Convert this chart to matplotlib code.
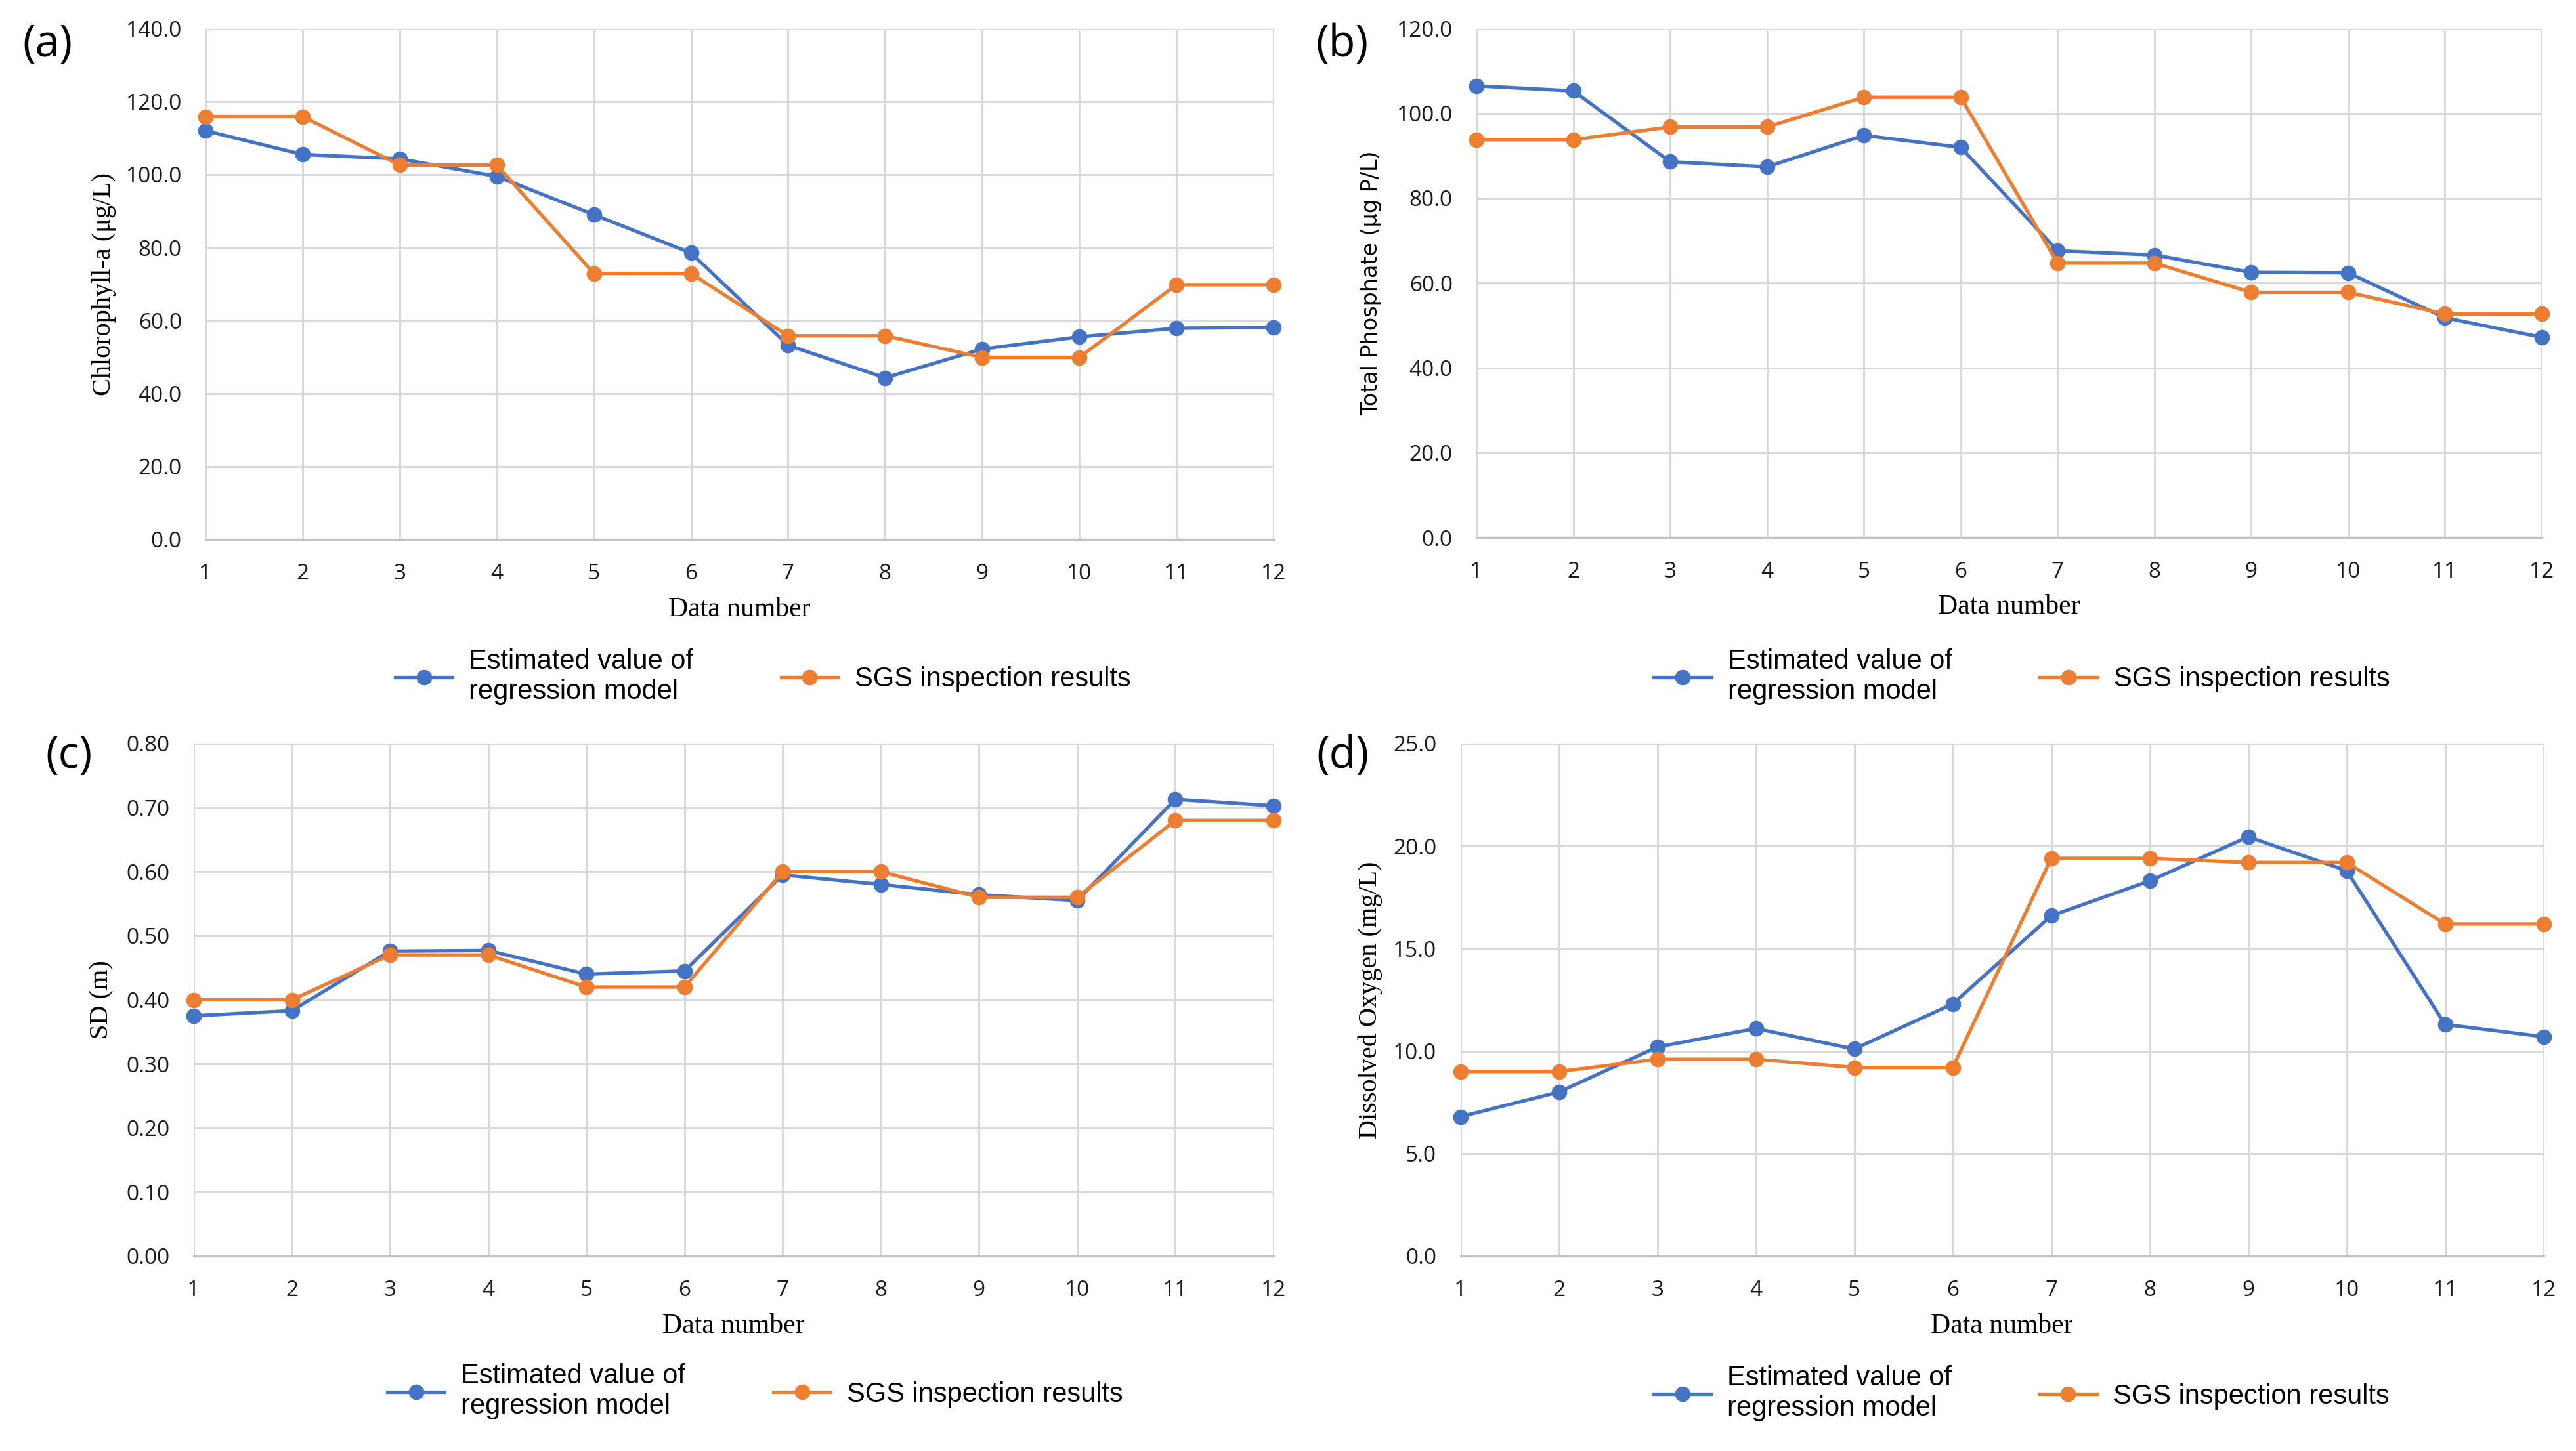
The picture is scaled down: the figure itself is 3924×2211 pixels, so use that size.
import matplotlib
matplotlib.use("Agg")
import matplotlib.pyplot as plt
from matplotlib.ticker import FormatStrFormatter

# data
data_number = [1, 2, 3, 4, 5, 6, 7, 8, 9, 10, 11, 12]

chl_est = [112.0, 105.5, 104.3, 99.5, 89.0, 78.5, 53.2, 44.3, 52.2, 55.5, 57.9, 58.1]
chl_sgs = [115.9, 115.9, 102.6, 102.6, 72.9, 72.9, 55.8, 55.8, 49.9, 49.9, 69.8, 69.8]

tp_est = [106.5, 105.3, 88.6, 87.4, 94.8, 92.0, 67.6, 66.6, 62.5, 62.4, 51.8, 47.2]
tp_sgs = [93.8, 93.8, 96.8, 96.8, 103.8, 103.8, 64.7, 64.7, 57.8, 57.8, 52.7, 52.7]

sd_est = [0.375, 0.383, 0.476, 0.477, 0.440, 0.445, 0.595, 0.580, 0.564, 0.555, 0.713, 0.703]
sd_sgs = [0.40, 0.40, 0.47, 0.47, 0.42, 0.42, 0.60, 0.60, 0.56, 0.56, 0.68, 0.68]

do_est = [6.8, 8.0, 10.2, 11.1, 10.1, 12.3, 16.6, 18.3, 20.45, 18.8, 11.3, 10.7]
do_sgs = [9.0, 9.0, 9.6, 9.6, 9.2, 9.2, 19.4, 19.4, 19.2, 19.2, 16.2, 16.2]

label_est = "Estimated value of\nregression model"
label_sgs = "SGS inspection results"

BLUE = "#4472C4"
ORANGE = "#ED7D31"
GRID = "#D9D9D9"

W, H = 3924, 2211
fig = plt.figure(figsize=(W / 100, H / 100), dpi=100)


def px_axes(left, top, right, bottom):
    # axes box given in pixel coordinates of the picture
    return fig.add_axes([left / W, 1 - bottom / H, (right - left) / W, (bottom - top) / H])


def panel(ax, est, sgs, ymax, ystep, fmt, ylabel, yfont, ylab_x, leg_x, leg_y):
    ax.plot(data_number, est, color=BLUE, lw=3.8, marker="o", ms=16,
            label=label_est, clip_on=False, zorder=3)
    ax.plot(data_number, sgs, color=ORANGE, lw=3.8, marker="o", ms=16,
            label=label_sgs, clip_on=False, zorder=4)
    ax.set_xlim(1, 12)
    ax.set_ylim(0, ymax)
    ax.set_xticks(data_number)
    n = int(round(ymax / ystep))
    ax.set_yticks([i * ystep for i in range(n + 1)])
    ax.yaxis.set_major_formatter(FormatStrFormatter(fmt))
    ax.grid(True, color=GRID, lw=2.2)
    ax.set_axisbelow(True)
    for s in ["top", "right", "left"]:
        ax.spines[s].set_visible(False)
    ax.spines["bottom"].set_color("#C4C4C4")
    ax.spines["bottom"].set_linewidth(2.4)
    ax.tick_params(length=0, labelsize=24, pad=26, colors="#1a1a1a")
    for t in ax.get_xticklabels() + ax.get_yticklabels():
        t.set_fontfamily("Open Sans")

    ax.set_xlabel("Data number", family="Liberation Serif", fontsize=30, va="center")
    ax.xaxis.set_label_coords(0.5, -0.137)
    ax.set_ylabel(ylabel, fontsize=yfont[1], family=yfont[0], va="center")
    ax.yaxis.set_label_coords(ylab_x, 0.5)

    ax.legend(loc="center", bbox_to_anchor=(leg_x, leg_y), ncol=2, frameon=False,
              prop={"family": "Liberation Sans", "size": 30}, handlelength=2.1,
              handletextpad=0.6, columnspacing=3.2, numpoints=1)


ax_a = px_axes(313, 43.5, 1940, 822)
panel(ax_a, chl_est, chl_sgs, 140, 20, "%.1f", "Chlorophyll-a (μg/L)",
      ("Liberation Serif", 29), -0.095, 0.522, -0.268)

ax_b = px_axes(2249, 43.5, 3872, 819)
panel(ax_b, tp_est, tp_sgs, 120, 20, "%.1f", "Total Phosphate (µg P/L)",
      ("DejaVu Sans", 24), -0.099, 0.512, -0.273)

ax_c = px_axes(295, 1133, 1940, 1914)
panel(ax_c, sd_est, sd_sgs, 0.80, 0.10, "%.2f", "SD (m)",
      ("Liberation Serif", 29), -0.085, 0.52, -0.264)

ax_d = px_axes(2224.6, 1133, 3874.6, 1914)
panel(ax_d, do_est, do_sgs, 25, 5, "%.1f", "Dissolved Oxygen (mg/L)",
      ("Liberation Serif", 29), -0.083, 0.518, -0.268)

# panel letters
for letter, x, y in [("(a)", 72, 68), ("(b)", 2044, 68), ("(c)", 105, 1152), ("(d)", 2045, 1152)]:
    fig.text(x / W, 1 - y / H, letter, family="Open Sans", fontsize=48,
             ha="center", va="center")

fig.savefig("out.png", dpi=100)
